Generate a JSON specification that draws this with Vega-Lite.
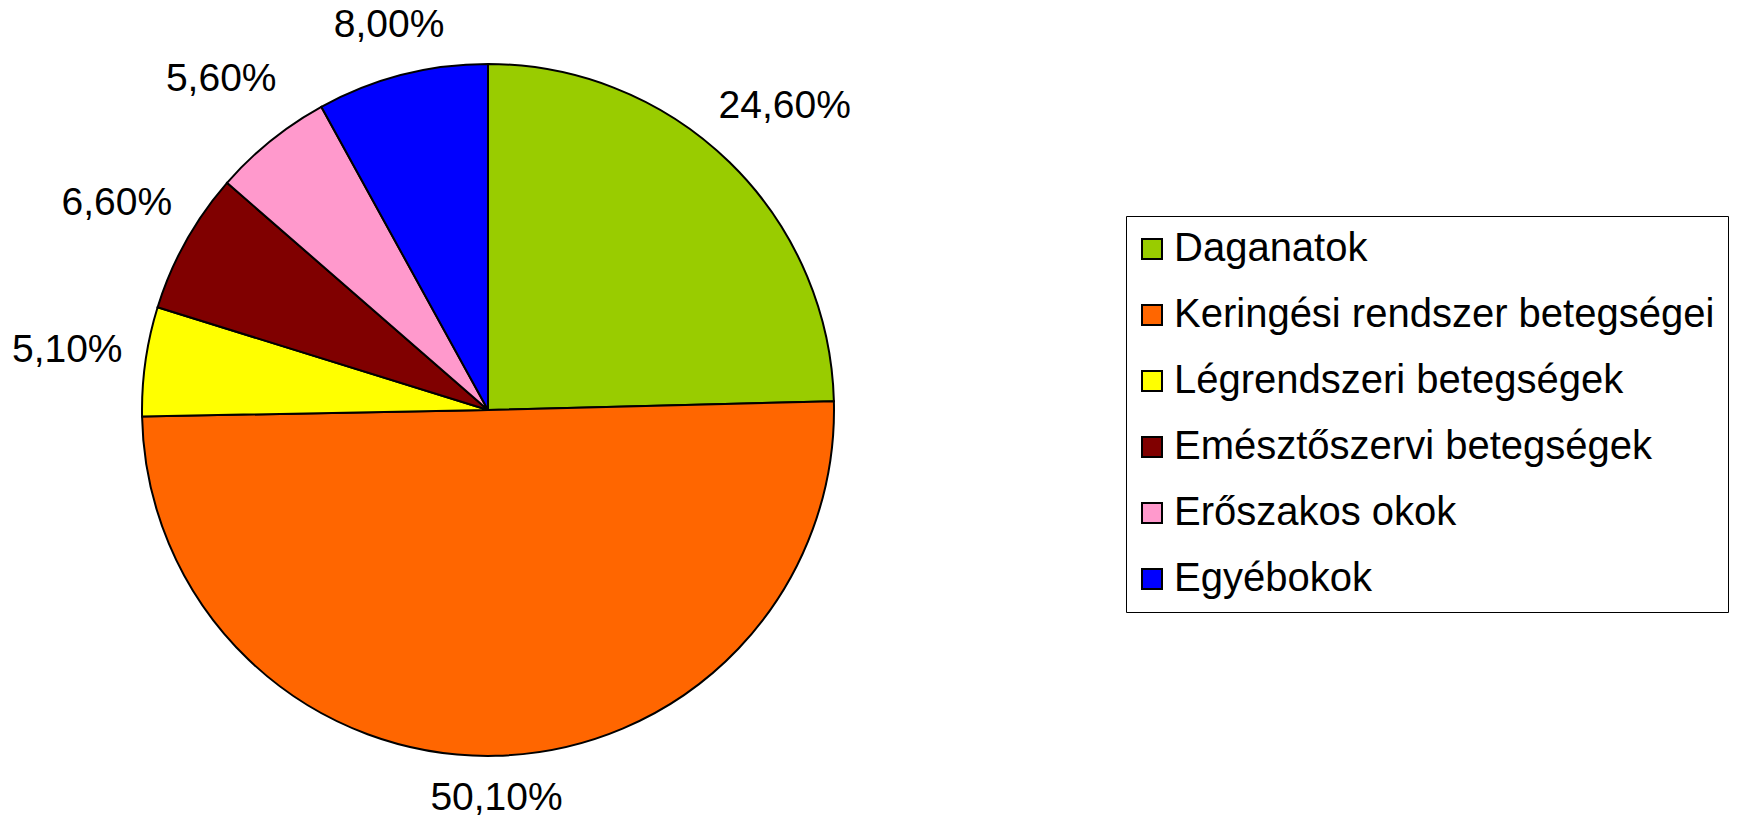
{
  "$schema": "https://vega.github.io/schema/vega-lite/v6.json",
  "width": 976,
  "height": 820,
  "padding": 0,
  "autosize": {"type": "pad"},
  "background": "white",
  "config": {"view": {"stroke": null}, "font": "Liberation Sans"},
  "data": {
    "values": [
      {"cause": "Daganatok", "value": 24.6, "label": "24,60%", "rank": 1},
      {"cause": "Keringési rendszer betegségei", "value": 50.1, "label": "50,10%", "rank": 2},
      {"cause": "Légrendszeri betegségek", "value": 5.1, "label": "5,10%", "rank": 3},
      {"cause": "Emésztőszervi betegségek", "value": 6.6, "label": "6,60%", "rank": 4},
      {"cause": "Erőszakos okok", "value": 5.6, "label": "5,60%", "rank": 5},
      {"cause": "Egyébokok", "value": 8.0, "label": "8,00%", "rank": 6}
    ]
  },
  "transform": [
    {"stack": "value", "groupby": [], "sort": [{"field": "rank", "order": "ascending"}], "as": ["v0", "v1"]},
    {"calculate": "(datum.v0 + datum.v1) / 2", "as": "vmid"}
  ],
  "layer": [
    {
      "mark": {"type": "arc", "outerRadius": 346, "stroke": "black", "strokeWidth": 2},
      "encoding": {
        "theta": {"field": "v0", "type": "quantitative", "stack": null, "scale": {"domain": [0, 100]}},
        "theta2": {"field": "v1"},
        "color": {
          "field": "cause",
          "type": "nominal",
          "sort": null,
          "scale": {
            "domain": ["Daganatok", "Keringési rendszer betegségei", "Légrendszeri betegségek", "Emésztőszervi betegségek", "Erőszakos okok", "Egyébokok"],
            "range": ["#99CC00", "#FF6600", "#FFFF00", "#800000", "#FF99CC", "#0000FF"]
          },
          "legend": {
            "title": null,
            "orient": "none",
            "legendX": 1126,
            "legendY": 216,
            "direction": "vertical",
            "strokeColor": "black",
            "fillColor": "white",
            "padding": 13,
            "symbolType": "square",
            "symbolSize": 400,
            "symbolOffset": -7,
            "symbolStrokeColor": "black",
            "symbolStrokeWidth": 2,
            "symbolOpacity": 1,
            "labelFont": "Liberation Sans",
            "labelFontSize": 40,
            "labelColor": "black",
            "labelOffset": 2,
            "labelLimit": 1000,
            "rowPadding": 26
          }
        }
      }
    },
    {
      "transform": [{"filter": "datum.cause !== 'Keringési rendszer betegségei' && datum.cause !== 'Egyébokok'"}],
      "mark": {"type": "text", "radius": 425, "fontSize": 39, "font": "Liberation Sans", "fill": "black", "align": "center", "baseline": "middle"},
      "encoding": {
        "theta": {"field": "vmid", "type": "quantitative", "stack": null, "scale": {"domain": [0, 100]}},
        "text": {"field": "label"}
      }
    },
    {
      "transform": [{"filter": "datum.cause === 'Keringési rendszer betegségei'"}],
      "mark": {"type": "text", "radius": 388, "fontSize": 39, "font": "Liberation Sans", "fill": "black", "align": "center", "baseline": "middle"},
      "encoding": {
        "theta": {"field": "vmid", "type": "quantitative", "stack": null, "scale": {"domain": [0, 100]}},
        "text": {"field": "label"}
      }
    },
    {
      "transform": [{"filter": "datum.cause === 'Egyébokok'"}],
      "mark": {"type": "text", "radius": 398, "fontSize": 39, "font": "Liberation Sans", "fill": "black", "align": "center", "baseline": "middle"},
      "encoding": {
        "theta": {"field": "vmid", "type": "quantitative", "stack": null, "scale": {"domain": [0, 100]}},
        "text": {"field": "label"}
      }
    }
  ]
}
